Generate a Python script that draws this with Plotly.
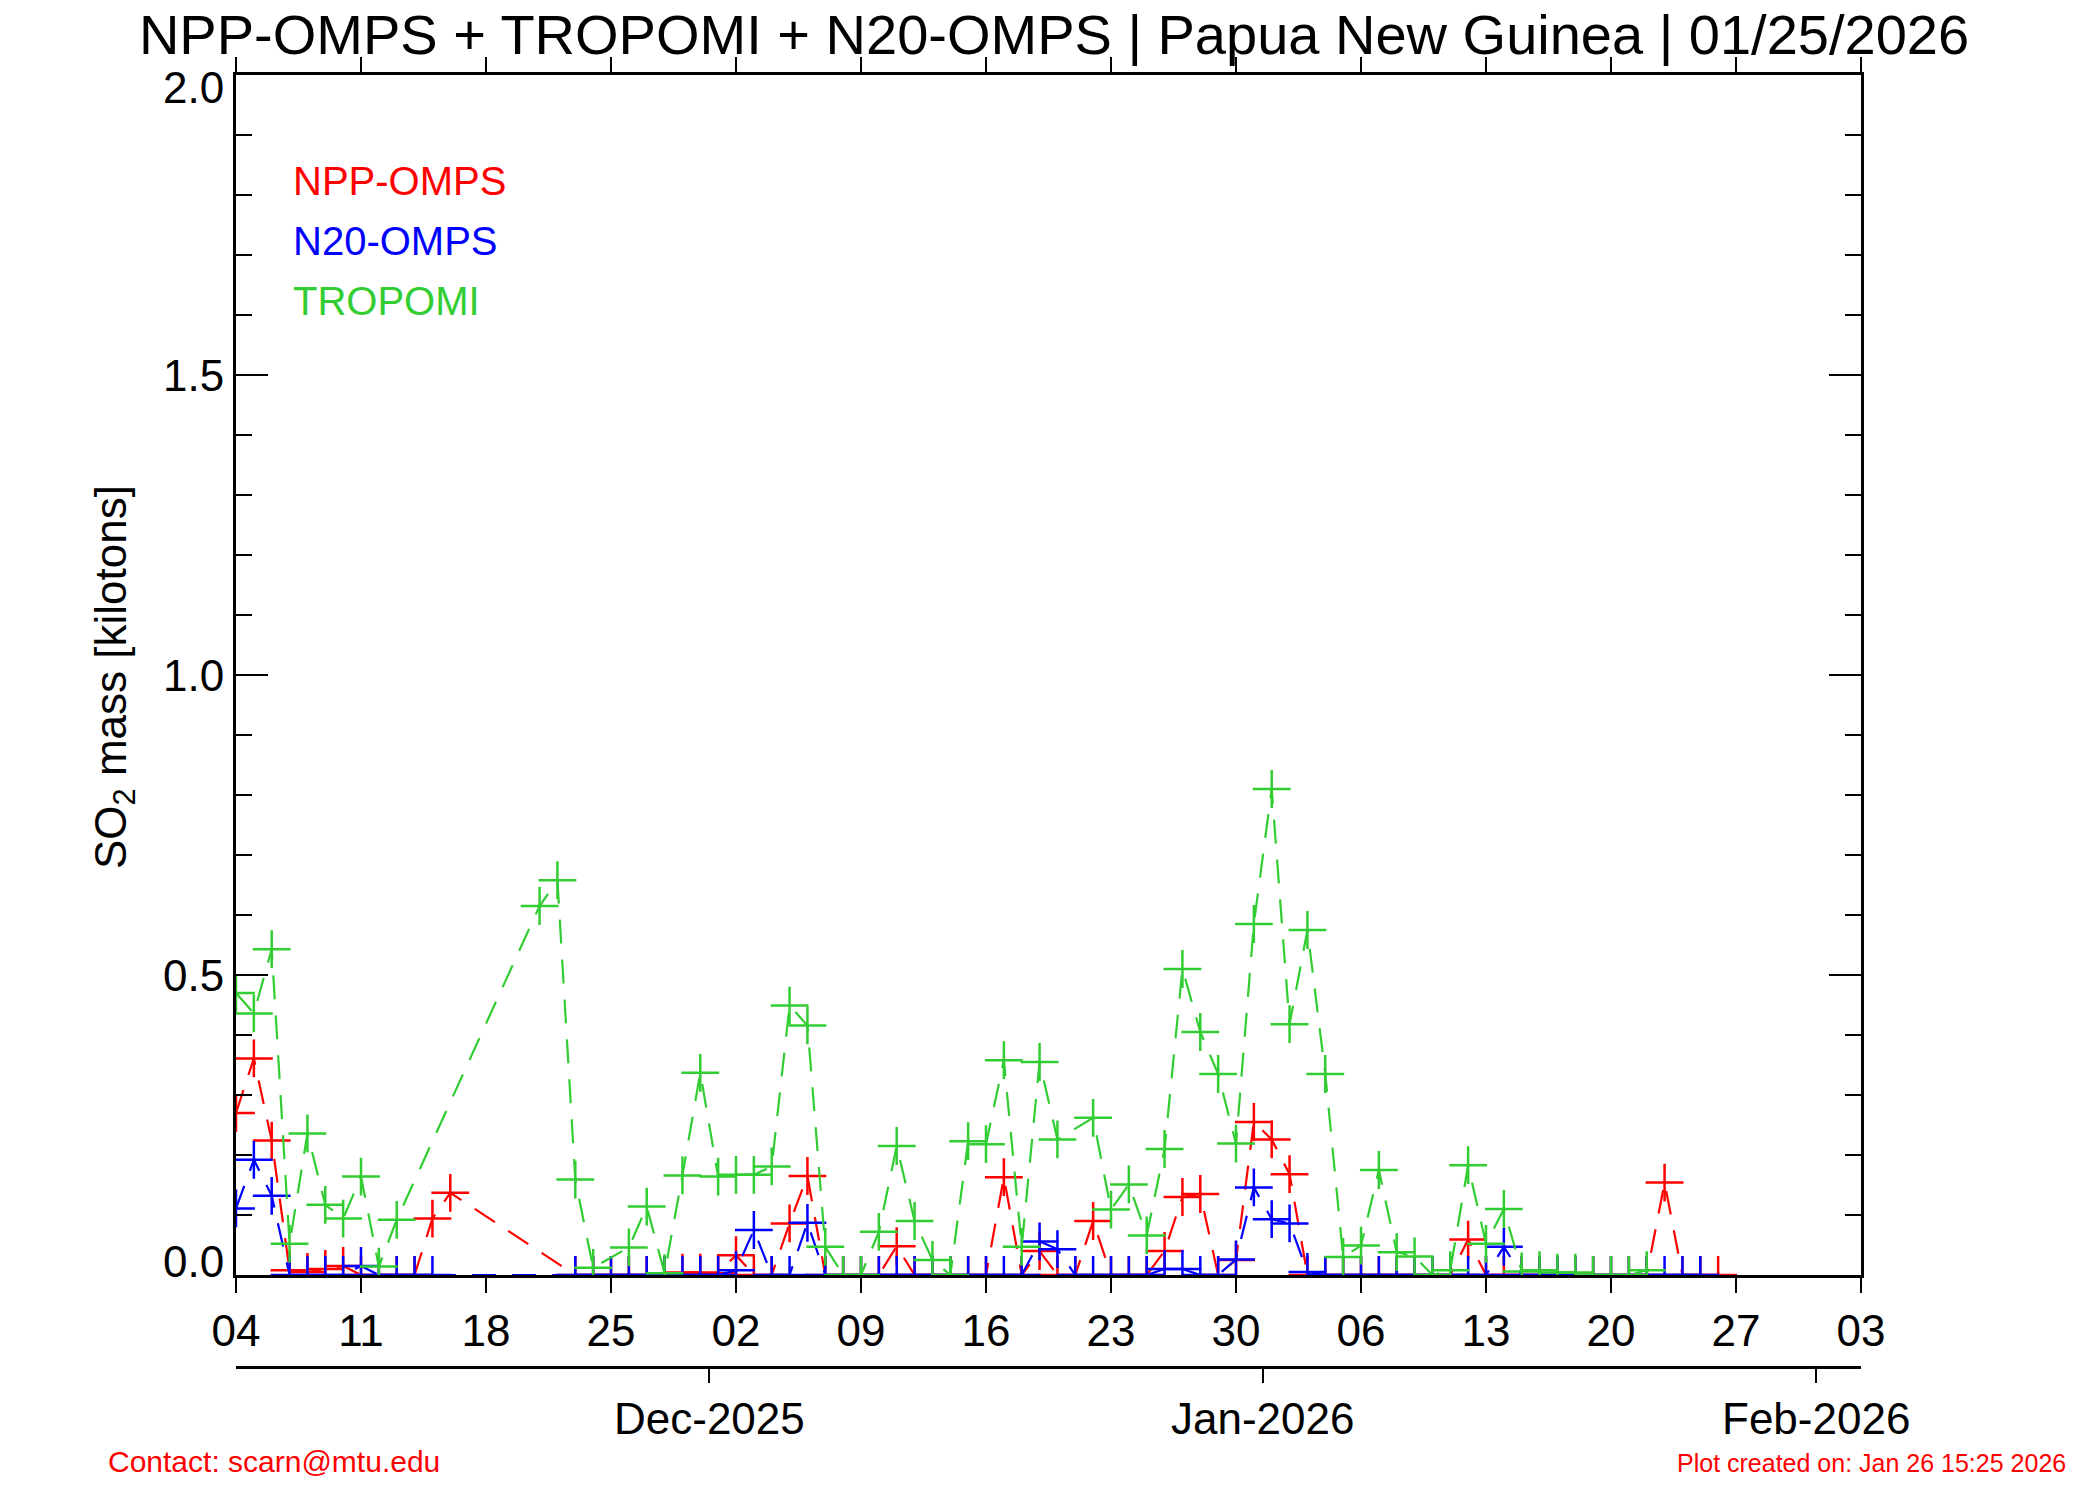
import pandas as pd
import plotly.graph_objects as go

# daily SO2 mass in kilotons, first value is 04 Nov 2025 (IDL julian days -> noon)
# None = no retrieval that day (line is drawn straight across the gap)
start_day = "2025-11-04 12:00"

npp_omps = [0.270, 0.361, 0.224, 0.008, 0.005, 0.010, 0.015, 0.0, 0.0, 0.0,
            0.0, 0.094, 0.137, None, None, None, None, None, None, 0.0,
            0.0, 0.0, 0.0, 0.0, 0.0, 0.004, 0.004, 0.003, 0.033, 0.0,
            0.0, 0.086, 0.165, 0.0, 0.0, 0.0, 0.0, 0.048, 0.0, 0.0,
            0.0, 0.0, 0.0, 0.163, 0.0, 0.040, 0.0, 0.0, 0.090, 0.0,
            0.0, 0.0, 0.040, 0.130, 0.135, 0.0, 0.025, 0.255, 0.226, 0.168,
            0.0, 0.0, 0.0, 0.0, 0.0, 0.0, 0.0, 0.0, 0.0, 0.059,
            0.0, 0.0, 0.0, 0.0, 0.0, 0.0, 0.0, 0.0, 0.0, 0.0,
            0.154, 0.0, 0.0, 0.0]

n20_omps = [0.111, 0.192, 0.132, 0.0, 0.0, 0.0, 0.0, 0.015, 0.0, 0.0,
            0.0, 0.0, None, None, None, None, None, None, None, 0.0,
            0.0, 0.0, 0.0, 0.0, 0.0, 0.0, 0.0, 0.0, 0.008, 0.075,
            0.0, 0.0, 0.087, 0.0, 0.0, 0.0, 0.0, 0.0, 0.0, 0.0,
            0.0, 0.0, 0.0, 0.0, 0.0, 0.056, 0.043, 0.0, 0.0, 0.0,
            0.0, 0.0, 0.010, 0.010, 0.0, 0.0, 0.026, 0.146, 0.093, 0.086,
            0.005, 0.0, 0.0, 0.0, 0.0, 0.0, 0.0, 0.0, 0.0, 0.0,
            0.0, 0.047, 0.0, 0.0, 0.0, 0.0, 0.0, 0.0, 0.0, 0.0,
            0.0, 0.0, 0.0]

tropomi = [0.470, 0.436, 0.543, 0.052, 0.236, 0.117, 0.094, 0.164, 0.014, 0.092,
           None, None, None, None, None, None, None, 0.615, 0.658, 0.159,
           0.012, None, 0.046, 0.114, 0.003, 0.166, 0.337, 0.164, 0.167, 0.167,
           0.181, 0.449, 0.416, 0.047, 0.0, 0.0, 0.072, 0.215, 0.090, 0.025,
           0.0, 0.223, 0.218, 0.358, 0.047, 0.355, 0.226, None, 0.262, 0.109,
           0.151, 0.066, 0.210, 0.510, 0.405, 0.335, 0.219, 0.585, 0.810, 0.418,
           0.575, 0.335, 0.030, 0.049, 0.175, 0.038, 0.031, 0.0, 0.008, 0.183,
           0.052, 0.110, 0.006, 0.008, 0.004, 0.004, 0.0, 0.0, 0.0, 0.008]

x_range = ["2025-11-04 12:00", "2026-02-03 12:00"]
month_ticks = ["2025-12-01", "2026-01-01", "2026-02-01"]
month_labels = ["Dec-2025", "Jan-2026", "Feb-2026"]
y_ticks = [0.0, 0.5, 1.0, 1.5, 2.0]
y_tick_labels = ["0.0", "0.5", "1.0", "1.5", "2.0"]

title = "NPP-OMPS + TROPOMI + N20-OMPS | Papua New Guinea | 01/25/2026"
FONT = "Liberation Sans, Arial, Helvetica, sans-serif"
RED, BLUE, GREEN = "#ff0000", "#0000ff", "#32cd32"

# the page body has an 8px margin, so the figure is drawn 8px smaller
# and all target pixel positions (taken from the 2100x1500 original) shifted
OFF = 8
W, H = 2100 - OFF, 1500 - OFF
L = 236 - OFF
R = W - (1861 - OFF)
T = 75 - OFF
B = H - (1367 - OFF)          # paper bottom = month axis line
ZERO_Y = 1275                 # row of the y=0 line in the original


def px(x):
    return (x - OFF - L) / (W - L - R)


def py(y):
    return (H - B - (y - OFF)) / (H - T - B)


dates = pd.date_range(start_day, periods=len(npp_omps), freq="D")

fig = go.Figure()

# draw order as in the original: NPP, then N20, then TROPOMI on top
for vals, color in [(npp_omps, RED), (n20_omps, BLUE), (tropomi, GREEN)]:
    fig.add_trace(go.Scatter(
        x=dates[:len(vals)], y=vals,
        mode="lines+markers", connectgaps=True,
        line=dict(color=color, width=2.2, dash="24px,16px"),
        marker=dict(symbol="cross-thin", size=27,
                    line=dict(color=color, width=2.5)),
        showlegend=False, hoverinfo="skip",
    ))

# empty trace so the month axis gets drawn
fig.add_trace(go.Scatter(x=month_ticks, y=[None] * len(month_ticks),
                         xaxis="x2", showlegend=False, hoverinfo="skip"))

axis_common = dict(showline=True, linecolor="black", linewidth=2.5,
                   showgrid=False, zeroline=False, tickcolor="black",
                   tickwidth=2)

fig.update_layout(
    width=W, height=H,
    margin=dict(l=L, r=R, t=T, b=B),
    paper_bgcolor="white", plot_bgcolor="white",
    font=dict(family=FONT, color="black"),
    title=dict(text=title, x=0.5, xanchor="center", y=1 - (34 - OFF) / H,
               yanchor="middle", font=dict(size=56, family=FONT)),
    xaxis=dict(
        type="date", range=x_range, anchor="y",
        tickmode="linear", tick0=start_day, dtick=7 * 86400000,
        tickformat="%d", ticks="outside", ticklen=15, mirror="ticks",
        tickfont=dict(size=44),
        **axis_common),
    xaxis2=dict(
        type="date", range=x_range, overlaying="x", anchor="free",
        position=0, side="bottom",
        tickmode="array", tickvals=month_ticks, showticklabels=False,
        ticks="outside", ticklen=14,
        **axis_common),
    yaxis=dict(
        domain=[py(ZERO_Y), 1], range=[0, 2],
        tickmode="linear", tick0=0, dtick=0.5,
        ticks="inside", ticklen=32, showticklabels=False, mirror="ticks",
        minor=dict(dtick=0.1, tick0=0, ticks="inside", ticklen=16,
                   tickwidth=2, tickcolor="black"),
        **axis_common),
)

annotations = []

# y tick labels; the end labels sit a little inside the frame
for v, lab in zip(y_ticks, y_tick_labels):
    shift = 14 if v == y_ticks[0] else (-12 if v == y_ticks[-1] else 0)
    annotations.append(dict(
        text=lab, xref="paper", x=0, xanchor="right", xshift=-10,
        yref="y", y=v, yanchor="middle", yshift=shift,
        showarrow=False, font=dict(size=44)))

# month labels under the second date axis
for t, lab in zip(month_ticks, month_labels):
    annotations.append(dict(
        text=lab, xref="x2", x=t, xanchor="center",
        yref="paper", y=py(1418), yanchor="middle",
        showarrow=False, font=dict(size=44)))

# y axis title
annotations.append(dict(
    text="SO<sub>2</sub> mass [kilotons]", xref="paper", yref="paper",
    x=px(114), y=py(677), xanchor="center", yanchor="middle",
    textangle=-90, showarrow=False, font=dict(size=44)))

# coloured text legend
for lab, color, ypix in [("NPP-OMPS", RED, 181), ("N20-OMPS", BLUE, 241),
                         ("TROPOMI", GREEN, 301)]:
    annotations.append(dict(
        text=lab, xref="paper", yref="paper", x=px(291), y=py(ypix),
        xanchor="left", yanchor="middle", showarrow=False,
        font=dict(size=40, color=color)))

# footer
annotations.append(dict(
    text="Contact: scarn@mtu.edu", xref="paper", yref="paper",
    x=px(106), y=py(1461), xanchor="left", yanchor="middle",
    showarrow=False, font=dict(size=30, color=RED)))
annotations.append(dict(
    text="Plot created on: Jan 26 15:25 2026", xref="paper", yref="paper",
    x=px(2068), y=py(1463), xanchor="right", yanchor="middle",
    showarrow=False, font=dict(size=25, color=RED)))

fig.update_layout(annotations=annotations)

fig.write_html("out.html")
